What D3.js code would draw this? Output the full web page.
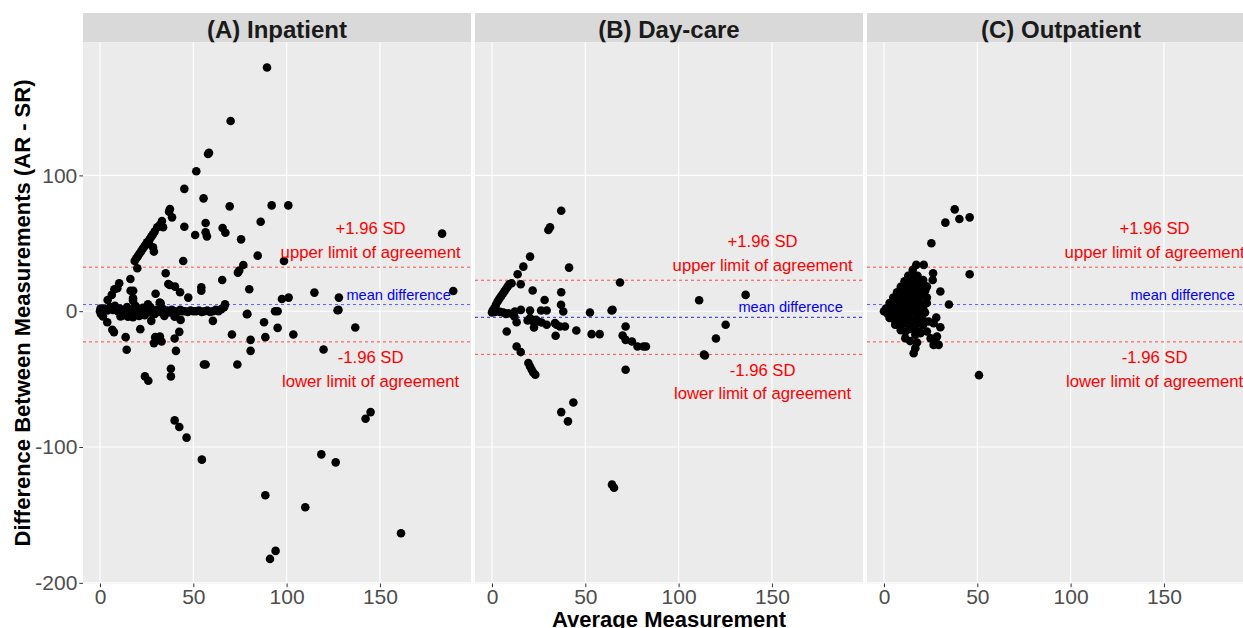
<!DOCTYPE html>
<html><head><meta charset="utf-8">
<script src="https://cdn.jsdelivr.net/npm/d3@7"></script>
<style>
html,body{margin:0;padding:0;background:#fff;overflow:hidden;}
svg{display:block;font-family:"Liberation Sans",Arial,sans-serif;}
</style></head>
<body>
<svg id="chart" width="1243" height="628"></svg>
<script>
const panelTitles = ["(A) Inpatient", "(B) Day-care", "(C) Outpatient"];
const xTicks = [0, 50, 100, 150];
const yTicks = [-200, -100, 0, 100];
const upperLoA = [32.4, 22.8, 32.4];
const meanDiff = [4.9, -4.5, 4.9];
const lowerLoA = [-22.6, -31.8, -22.6];

const inpatient = [
 [89.5,179.4],[70,140],[58.4,116.6],[57.9,115.8],[51.6,103],[45.2,90.1],[55.5,83.1],[69.5,77.2],[92,77.9],[100.9,77.9],
 [86.1,65.9],[56.6,64.9],[45.2,62.2],[51,56.1],[56.6,58.1],[57.3,55.1],[65.7,61.3],[67.2,57.8],[75.6,52.9],[183.3,57.1],
 [189.3,14.9],[84.5,40.9],[98.6,37],[76.8,34],[73.9,28.4],[74.6,29.9],[65.5,23],[80,16.2],[114.9,13.7],[128,10],
 [101.1,10],[97.5,9],[127.8,1],[79,-2],[93.8,0],[95.2,0],[44.6,37],[54.3,17.6],[54.3,15.1],[35.2,27.9],
 [36.6,20],[37.4,19.3],[40.2,18.1],[42.9,14],[47.3,10],[16.3,23.7],[29.8,12.9],[10.3,20.6],[9.3,16.9],[7.7,16.2],
 [16.4,15.1],[17.8,15.1],[6.3,12],[4.1,8.3],[17.7,9.6],[17.7,7.8],[32,6.4],[20,31.6],
 [18.6,37],[19.4,38.8],[20.3,40.5],[21.1,42.3],[22,44],[22.8,45.8],[23.7,47.4],[24.4,48.9],[25.2,50.7],[26.6,52.9],
 [27.5,54.9],[28.4,56.6],[29.3,58.6],[30.7,61.8],[32,63.5],[33.2,66.4],[37,73.3],[37.5,75.2],[38.6,69.1],[26.3,49.5],
 [28.4,47.1],[28.9,43.9],[33.8,61.8],
 [0.5,1],[1.2,-1],[2.5,2],[4,0.5],[5.5,3],[7,1],[8,4],[9.5,0],[10.5,2],[12,-1],[13,1],[14.5,3],[15.5,0],[17,-1],
 [18,1.5],[19,4],[20.5,-0.5],[21.5,1],[23,2.5],[24,-1],[25.5,0.5],[27,3],[28,-1.5],[29,0],[30.5,1],[32,-0.5],
 [33.5,2],[34.5,0],[36,0.5],[37.5,-1],[38.5,1],[40,0],[41.5,-0.5],[43,1],[44,0],[45.5,0],[47,-0.5],[48.5,0.5],
 [50,0],[51.5,0],[53,0.5],[54.5,-0.5],[56,0],[57.5,0.5],[59,-0.5],[60.5,0],[62,1],[63.5,0],[65,1.5],[66.5,3],[67,5],
 [0,0],[0.5,-2],[0.3,2],
 [25.7,5.1],[32.5,5.9],[11,-3.9],[12.3,-3.2],[15,-4],[17.7,-4.5],[21,-3.5],[24,-3],[29.4,-2],[34.5,-3.5],[40,-4],
 [43.2,-6.4],[27.5,-7.1],[60.5,-7.1],[1.6,-3.9],[3.9,-8.1],[6.6,-13.7],[7.5,-15.4],
 [13.75,-19.1],[14.3,-28.4],[21.6,-13.2],[29.6,-19.1],[32.1,-18.6],[33,-22.3],[28.9,-23.5],[40,-20.1],[40.7,-29.2],
 [42.5,-15.2],[38,-42.4],[38,-48],[24.1,-48],[25.9,-51.2],[40,-80.4],[42.5,-85.3],[46.4,-93.1],[54.6,-109.3],
 [55.7,-39.2],[56.6,-39.2],[70.7,-17.2],[73.6,-39.2],[80.7,-21.1],[80.7,-29.2],[87.9,-8.1],[88.6,-19.1],
 [88.6,-135.5],[91.1,-182.4],[94.1,-176.5],[95.2,-12.3],[103.6,-17.2],[110,-144.4],[118.6,-105.4],[119.8,-28.2],
 [126.3,-111.3],[127.3,0.7],[136.8,-12],[142.3,-79.2],[145,-74.3],[161.3,-163.5],[78.7,-2.2]
];

const daycare = [
 [37.1,74],[31.1,61.8],[30.2,59.8],[20.4,40.2],[16.8,32.8],[41.3,32.1],[13.75,27.2],[10.5,20.6],[15.4,19.9],
 [0.4,0.5],[1.25,2.2],[2.1,4.7],[3,7.1],[3.9,9.1],[4.8,10.8],[5.7,12.7],[6.6,14.5],[7.5,16.4],[8.4,18.1],[9.3,19.9],
 [21.8,15.2],[28.2,8.3],[37.1,14],[37,4.7],[38.2,-0.2],[68.6,21.1],[52.5,-1],[64.1,0.5],[64.6,1],
 [0,-1],[1.5,-0.5],[3,0],[4.3,-0.5],[6.1,-1],[8.75,-1.5],[10.9,-2],[12.3,-0.2],[15.5,1],[12,-3.9],[7.5,-2],
 [20.4,0.5],[20.4,-5.1],[19.1,-6.9],[22.1,-7.6],[23.6,-6.4],[24.8,-7.6],[26.3,0.5],[29.3,0.5],[26.6,-8.3],[29.3,-10],
 [22.5,-12],[33.75,-8.8],[34.6,-10],[36.4,-11.3],[39.1,-11.3],[34.1,-18.1],[45.2,-14.2],[13.2,-8.1],[7.9,-15],
 [13.2,-26],[15.4,-30.1],[19.5,-38.2],[20.4,-40.7],[21.3,-43.1],[22.1,-45.1],[23.2,-46.8],[43.6,-67.2],[37.1,-74.3],
 [40.7,-81.1],[53.4,-16.9],[57.7,-16.9],[71.6,-11.3],[70,-17.9],[71.6,-21.1],[75,-22.3],[78,-26],[81.1,-26],[82.5,-26],
 [71.6,-43.1],[111,8.1],[135.9,12],[114.1,-32.6],[113.6,-32],[120,-20.1],[125.2,-10],[64.3,-127.7],[65.4,-130]
];

const outpatient = [
 [13,26],[15,27],[18,26],
 [11,22],[13.5,23],[16,22],[18.5,21],[21,23],
 [9,18],[11.5,18],[14,19],[16.5,18],[19,17],[21.5,19],
 [7,14],[9.5,14],[12,15],[14.5,14],[17,13],[19.5,14],[22,15],
 [5,10],[7.5,10],[10,11],[12.5,10],[15,9],[17.5,10],[20,11],[23,10],
 [3,6],[5.5,6],[8,7],[10.5,6],[13,5],[15.5,6],[18,7],[20.5,5],[23,6],
 [1,2],[3.5,2],[6,3],[8.5,2],[11,1],[13.5,2],[16,3],[18.5,1],[21,2],
 [0,0],[2,-2],[4.5,-1],[7,-2],[9.5,-3],[12,-2],[14.5,-1],[17,-2],[19.5,-3],[22,-1],
 [3,-5],[5.5,-6],[8,-7],[10.5,-6],[13,-5],[15.5,-7],[18,-6],[20.5,-5],
 [6,-10],[8.5,-11],[11,-9],[13.5,-10],[16,-11],[18.5,-9],[21,-10],
 [9,-14],[11.5,-15],[14,-13],[16.5,-14],[19,-15],
 [37.9,75],[32.9,65.2],[40.4,67.9],[45.9,69.1],[25.4,50],[17.3,34.1],[21.3,34.1],[15.4,30.4],[26.3,27.9],[26.1,23],
 [45.9,27.2],[30.2,14.5],[34.8,4.9],[23,18.1],[22.1,15.7],[19.1,21.1],[28,-4.7],[30.2,-11.8],[26.6,-8.8],[23.9,-7.6],
 [23,-14.9],[19.5,-16.2],[16.8,-17.4],[17.7,-23],[15.9,-30.9],[16.8,-27.2],[11.4,-19.9],[28.4,-18.6],[29.3,-24.8],
 [26.6,-24.8],[50.9,-47.1],[27.5,-21],[25,-20],[14,-22]
];

const panelData = [inpatient, daycare, outpatient];

const svg = d3.select("#chart");
const font = '"Liberation Sans", Arial, sans-serif';
const panelLefts = [83, 475, 867];
const panelW = 388;
const stripTop = 13, panelTop = 42.3, panelBottom = 583.5;

const y = d3.scaleLinear().domain([-200.5, 198]).range([panelBottom, panelTop]);

panelData.forEach((pts, i) => {
  const L = panelLefts[i];
  const x = d3.scaleLinear().domain([-9.1, 198.8]).range([L, L + panelW]);
  const g = svg.append("g");
  g.append("rect").attr("x", L).attr("y", stripTop).attr("width", panelW).attr("height", panelTop - stripTop).attr("fill", "#D9D9D9");
  g.append("text").attr("x", L + panelW / 2).attr("y", 37.5).attr("text-anchor", "middle")
    .attr("font-size", 24).attr("font-weight", "bold").attr("fill", "#1A1A1A").text(panelTitles[i]);
  g.append("rect").attr("x", L).attr("y", panelTop).attr("width", panelW).attr("height", panelBottom - panelTop).attr("fill", "#EBEBEB");
  g.selectAll(".gx").data(xTicks).join("line").attr("x1", d => x(d)).attr("x2", d => x(d))
    .attr("y1", panelTop).attr("y2", panelBottom).attr("stroke", "#fff").attr("stroke-width", 1.1);
  g.selectAll(".gy").data(yTicks).join("line").attr("y1", d => y(d)).attr("y2", d => y(d))
    .attr("x1", L).attr("x2", L + panelW).attr("stroke", "#fff").attr("stroke-width", 1.1);
  const refs = [
    {v: upperLoA[i], c: "#ff4d4d"},
    {v: meanDiff[i], c: i === 1 ? "#2a2ad0" : "#5c5cff"},
    {v: lowerLoA[i], c: "#ff4d4d"}
  ];
  g.selectAll(".ref").data(refs).join("line").attr("x1", L).attr("x2", L + panelW)
    .attr("y1", d => y(d.v)).attr("y2", d => y(d.v)).attr("stroke", d => d.c)
    .attr("stroke-width", 1).attr("stroke-dasharray", "3,3");
  g.selectAll("circle").data(pts).join("circle").attr("cx", d => x(d[0])).attr("cy", d => y(d[1]))
    .attr("r", 4.3).attr("fill", "#000");
  const ann = [
    {t: "+1.96 SD", xv: 145, yy: y(upperLoA[i]) - 33, c: "red", s: 16.7},
    {t: "upper limit of agreement", xv: 145, yy: y(upperLoA[i]) - 9, c: "red", s: 16.7},
    {t: "mean difference", xv: 160, yy: y(meanDiff[i]) - 5, c: "blue", s: 14.6},
    {t: "-1.96 SD", xv: 145, yy: y(lowerLoA[i]) + 21.5, c: "red", s: 16.7},
    {t: "lower limit of agreement", xv: 145, yy: y(lowerLoA[i]) + 45, c: "red", s: 16.7}
  ];
  g.selectAll(".ann").data(ann).join("text").attr("x", d => x(d.xv)).attr("y", d => d.yy)
    .attr("text-anchor", "middle").attr("font-size", d => d.s).attr("fill", d => d.c).text(d => d.t);
  const xa = svg.append("g").attr("transform", `translate(0,${panelBottom})`)
    .call(d3.axisBottom(x).tickValues(xTicks).tickSize(3.7).tickPadding(2).tickFormat(d => String(d)));
  xa.select(".domain").remove();
  xa.selectAll("line").attr("stroke", "#333");
  xa.selectAll("text").attr("font-size", 21).attr("fill", "#4D4D4D").attr("font-family", font);
  if (i === 0) {
    const ya = svg.append("g").attr("transform", `translate(${L},0)`)
      .call(d3.axisLeft(y).tickValues(yTicks).tickSize(3.7).tickPadding(2).tickFormat(d => String(d)));
    ya.select(".domain").remove();
    ya.selectAll("line").attr("stroke", "#333");
    ya.selectAll("text").attr("font-size", 21).attr("fill", "#4D4D4D").attr("font-family", font);
  }
});

svg.append("text").attr("x", 669).attr("y", 627).attr("text-anchor", "middle")
  .attr("font-size", 22).attr("font-weight", "bold").attr("fill", "#000").text("Average Measurement");
svg.append("text").attr("transform", `translate(30,313) rotate(-90)`).attr("text-anchor", "middle")
  .attr("font-size", 22).attr("font-weight", "bold").attr("fill", "#000").text("Difference Between Measurements (AR - SR)");
</script>
</body></html>
